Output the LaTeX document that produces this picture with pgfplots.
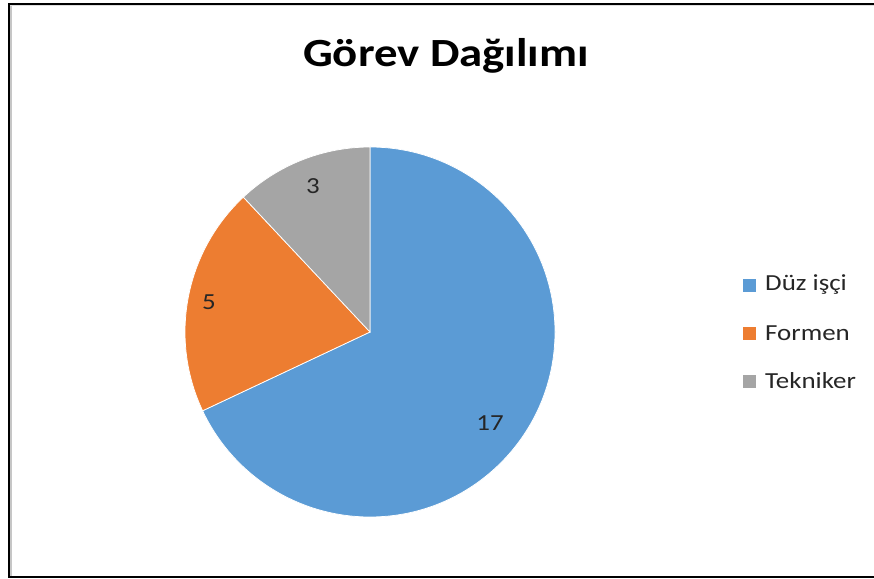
\documentclass[border=0pt]{standalone}
\usepackage{pgfplots}
\usepackage{pgfplotstable}
\pgfplotsset{compat=1.18}
\usepackage{fontspec}
\setmainfont[FakeStretch=1.17]{Carlito}
\definecolor{pie0}{HTML}{5B9BD5}
\definecolor{pie1}{HTML}{ED7D31}
\definecolor{pie2}{HTML}{A5A5A5}

\pgfplotstableread{
value lx ly
17 490 155
5 209 276
3 313 392
}\piedata

\begin{document}
\begin{tikzpicture}[x=1pt,y=1pt]
\useasboundingbox (0,0) rectangle (874,578);
\begin{axis}[at={(0,0)}, anchor=south west, width=874pt, height=578pt, scale only axis,
  xmin=0, xmax=874, ymin=0, ymax=578, axis lines=none, clip=false]
\pgfplotstablegetrowsof{\piedata}
\pgfmathtruncatemacro\nrows{\pgfplotsretval-1}
\def\total{0}
\pgfplotsforeachungrouped \i in {0,...,\nrows}{%
  \pgfplotstablegetelem{\i}{value}\of\piedata
  \pgfmathsetmacro\total{\total+\pgfplotsretval}%
}
\def\stang{90}
\pgfplotsforeachungrouped \i in {0,...,\nrows}{%
  \pgfplotstablegetelem{\i}{value}\of\piedata
  \let\val\pgfplotsretval
  \pgfmathsetmacro\sweep{360*\val/\total}%
  \pgfmathsetmacro\endang{\stang-\sweep}%
  \pgfplotstablegetelem{\i}{lx}\of\piedata \let\lx\pgfplotsretval
  \pgfplotstablegetelem{\i}{ly}\of\piedata \let\ly\pgfplotsretval
  \edef\temp{\noexpand\fill[pie\i, draw=white, line width=0.75pt] (axis cs:370,246) -- (axis cs:{370+185*cos(\stang)},{246+185*sin(\stang)}) arc[start angle=\stang, end angle=\endang, radius=185pt] -- cycle;
   \noexpand\node[font=\noexpand\fontsize{23}{28}\noexpand\selectfont, text=black!85] at (axis cs:\lx,\ly) {\val};}%
  \temp
  \global\let\stang\endang
}
\node[font=\fontsize{40}{48}\selectfont\bfseries] at (axis cs:446,522) {Görev Dağılımı};
\fill[pie0] (axis cs:743,286) rectangle (axis cs:756,299);
\fill[pie1] (axis cs:743,238) rectangle (axis cs:756,251);
\fill[pie2] (axis cs:743,190) rectangle (axis cs:756,203);
\node[anchor=west, inner sep=0pt, font=\fontsize{23}{28}\selectfont, text=black!85] at (axis cs:765,293) {Düz işçi};
\node[anchor=west, inner sep=0pt, font=\fontsize{23}{28}\selectfont, text=black!85] at (axis cs:765,245) {Formen};
\node[anchor=west, inner sep=0pt, font=\fontsize{23}{28}\selectfont, text=black!85] at (axis cs:765,197) {Tekniker};
\end{axis}
\draw[gray!45, line width=1.5pt] (10.8,572) -- (10.8,2.5);
\draw[gray!25, line width=1pt] (10,572) -- (874,572);
\draw[black, line width=2pt] (874,573.5) -- (8.5,573.5) -- (8.5,1.5) -- (874,1.5);
\end{tikzpicture}
\end{document}
